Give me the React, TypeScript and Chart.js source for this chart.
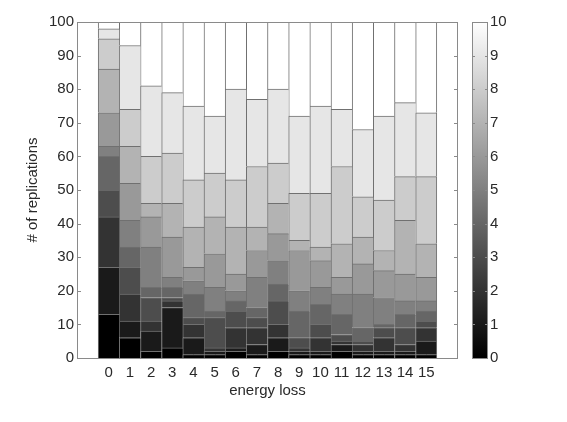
import React, { useEffect, useRef } from 'react';
import { Chart, registerables } from 'chart.js';

Chart.register(...registerables);

const categories = ['0', '1', '2', '3', '4', '5', '6', '7', '8', '9', '10', '11', '12', '13', '14', '15'];
const levelLabels = ['0', '1', '2', '3', '4', '5', '6', '7', '8', '9', '10'];
const yTicks = [0, 10, 20, 30, 40, 50, 60, 70, 80, 90, 100];

// replications per level (bottom = level 0, black; top = level 10, white)
const level0 = [13, 6, 2, 3, 1, 1, 2, 1, 2, 1, 1, 2, 1, 1, 1, 1];
const level1 = [14, 5, 6, 12, 5, 1, 1, 3, 4, 1, 1, 2, 1, 1, 1, 4];
const level2 = [15, 8, 3, 2, 4, 1, 6, 5, 4, 1, 4, 1, 2, 4, 2, 4];
const level3 = [8, 8, 7, 1, 2, 9, 5, 3, 7, 3, 4, 2, 1, 3, 5, 2];
const level4 = [10, 6, 3, 3, 7, 2, 3, 3, 5, 8, 6, 6, 4, 1, 4, 3];
const level5 = [3, 8, 12, 3, 4, 7, 3, 9, 7, 6, 5, 6, 10, 8, 4, 3];
const level6 = [10, 11, 9, 12, 4, 10, 5, 8, 8, 12, 8, 5, 9, 8, 8, 7];
const level7 = [13, 11, 4, 10, 12, 11, 14, 7, 9, 3, 4, 10, 8, 6, 16, 10];
const level8 = [9, 11, 14, 15, 14, 13, 14, 18, 12, 14, 16, 23, 12, 15, 13, 20];
const level9 = [3, 19, 21, 18, 22, 17, 27, 20, 22, 23, 26, 17, 20, 25, 22, 19];
const level10 = [2, 7, 19, 21, 25, 28, 20, 23, 20, 28, 25, 26, 32, 28, 24, 27];

const levels = [level0, level1, level2, level3, level4, level5, level6, level7, level8, level9, level10];

const FONT = '"Liberation Sans", Arial, Helvetica, sans-serif';
const TEXT = '#2a2a2a';
const FRAME = '#8a8a8a';
const EDGE = '#707070';

function gray(k: number) {
  const g = Math.round((255 * k) / 10);
  return `rgb(${g},${g},${g})`;
}

const matlabPlugin = {
  id: 'matlabDecor',
  beforeDatasetsDraw(chart: any) {
    const { ctx, chartArea } = chart;
    const { left, right, top, bottom } = chartArea;
    const ys = chart.scales.y;
    const xs = chart.scales.x;
    ctx.save();
    ctx.strokeStyle = FRAME;
    ctx.lineWidth = 1;
    ctx.beginPath();
    yTicks.forEach((v) => {
      const py = Math.round(ys.getPixelForValue(v)) + 0.5;
      ctx.moveTo(left, py);
      ctx.lineTo(left + 4, py);
      ctx.moveTo(right, py);
      ctx.lineTo(right - 4, py);
    });
    categories.forEach((c) => {
      const px = Math.round(xs.getPixelForValue(Number(c))) + 0.5;
      ctx.moveTo(px, bottom);
      ctx.lineTo(px, bottom - 4);
      ctx.moveTo(px, top);
      ctx.lineTo(px, top + 4);
    });
    ctx.stroke();
    ctx.restore();
  },
  afterDatasetsDraw(chart: any) {
    const { ctx, chartArea } = chart;
    const { left, right, top, bottom } = chartArea;
    ctx.save();
    ctx.strokeStyle = FRAME;
    ctx.lineWidth = 1;
    ctx.strokeRect(Math.round(left) + 0.5, Math.round(top) + 0.5, Math.round(right - left) - 1, Math.round(bottom - top));
    ctx.restore();
  },
  afterDraw(chart: any) {
    const { ctx, chartArea } = chart;
    const { top, bottom } = chartArea;
    const x0 = 472;
    const x1 = 488;
    ctx.save();
    const grad = ctx.createLinearGradient(0, bottom, 0, top);
    grad.addColorStop(0, '#000000');
    grad.addColorStop(1, '#ffffff');
    ctx.fillStyle = grad;
    ctx.fillRect(x0, top, x1 - x0, bottom - top);
    ctx.strokeStyle = FRAME;
    ctx.lineWidth = 1;
    ctx.strokeRect(x0 + 0.5, Math.round(top) + 0.5, x1 - x0 - 1, Math.round(bottom - top));
    ctx.beginPath();
    const n = levelLabels.length - 1;
    levelLabels.forEach((lab, i) => {
      const py = Math.round(bottom - ((bottom - top) * i) / n) + 0.5;
      ctx.moveTo(x0, py);
      ctx.lineTo(x0 + 3, py);
      ctx.moveTo(x1, py);
      ctx.lineTo(x1 - 3, py);
    });
    ctx.stroke();
    ctx.fillStyle = TEXT;
    ctx.font = `15px ${FONT}`;
    ctx.textAlign = 'left';
    ctx.textBaseline = 'middle';
    levelLabels.forEach((lab, i) => {
      const py = bottom - ((bottom - top) * i) / n;
      ctx.fillText(lab, x1 + 2, py);
    });
    ctx.restore();
  },
};

export default function App() {
  const ref = useRef<HTMLCanvasElement | null>(null);

  useEffect(() => {
    if (!ref.current) return;
    const datasets = levels.map((lv, k) => ({
      label: levelLabels[k],
      data: lv.map((v, i) => ({ x: Number(categories[i]), y: v })),
      backgroundColor: gray(k),
      borderColor: EDGE,
      borderSkipped: false as any,
      borderWidth: (c: any) => ({ top: 1, left: 1, bottom: 0, right: c.dataIndex === categories.length - 1 ? 1 : 0 }),
      categoryPercentage: 1,
      barPercentage: 1,
    }));

    const chart = new Chart(ref.current, {
      type: 'bar',
      data: { datasets },
      options: {
        animation: false,
        responsive: false,
        devicePixelRatio: 1,
        layout: { padding: { top: 22, right: 109, bottom: 0, left: 0 } },
        plugins: {
          legend: { display: false },
          tooltip: { enabled: false },
        },
        scales: {
          x: {
            type: 'linear',
            stacked: true,
            min: -1,
            max: 16,
            grid: { display: false, drawTicks: false },
            border: { display: false },
            ticks: {
              stepSize: 1,
              autoSkip: false,
              maxRotation: 0,
              padding: 6,
              color: TEXT,
              font: { family: FONT, size: 15 },
              callback: (v: any) => {
                const i = categories.indexOf(String(v));
                return i >= 0 ? categories[i] : '';
              },
            },
            title: {
              display: true,
              text: 'energy loss',
              color: TEXT,
              font: { family: FONT, size: 15 },
              padding: { top: 0, bottom: 22 },
            },
            afterFit: (s: any) => {
              s.height = 64;
            },
          },
          y: {
            stacked: true,
            min: 0,
            max: 100,
            grid: { display: false, drawTicks: false },
            border: { display: false },
            ticks: {
              stepSize: 10,
              padding: 3,
              color: TEXT,
              font: { family: FONT, size: 15 },
            },
            title: {
              display: true,
              text: '# of replications',
              color: TEXT,
              font: { family: FONT, size: 15 },
              padding: { top: 24, bottom: 0 },
            },
            afterFit: (s: any) => {
              s.width = 77;
            },
          },
        },
      },
      plugins: [matlabPlugin],
    });
    return () => chart.destroy();
  }, []);

  return (
    <div style={{ position: 'absolute', left: 0, top: 0, width: 567, height: 422, background: '#fff' }}>
      <canvas ref={ref} width={567} height={422} style={{ width: 567, height: 422, display: 'block' }} />
    </div>
  );
}
